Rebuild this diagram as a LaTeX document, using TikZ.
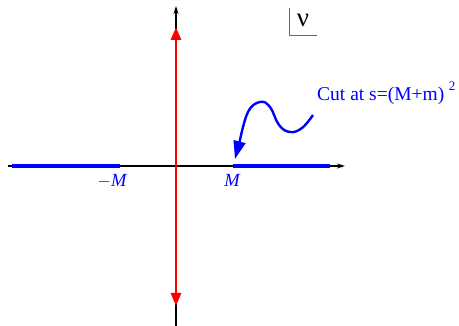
\documentclass[tikz,border=0pt]{standalone}
\usepackage{fontspec}
\setmainfont{Liberation Serif}
\usetikzlibrary{arrows.meta,calc,positioning}
\tikzset{
  axis/.style={black, line width=1.3pt, -{Stealth[length=8pt,width=5pt]}},
  cutline/.style={blue, line width=4pt},
  polearr/.style={red, line width=2.8pt, -{Triangle[length=13pt,width=10pt]}},
  lbl/.style={blue, inner sep=0pt, font=\fontsize{18.5}{18}\selectfont},
  every picture/.style={line cap=butt, line join=round}
}
\begin{document}
\begin{tikzpicture}[x=1pt,y=-1pt]
  \useasboundingbox (0,0) rectangle (459,326);

  % Axes
  \coordinate (o) at (176,166);
  \coordinate (xl) at (8,166);
  \coordinate (xr) at (345,166);
  \coordinate (yt) at (176,6);
  \coordinate (yb) at (176,326);
  \draw[axis] (xl) -- (xr);
  \draw[axis] (yb) -- (yt);

  % Imaginary axis
  \draw[polearr] (o) -- (176,27);
  \draw[polearr] (o) -- (176,306);

  % Cuts
  \coordinate (la) at (12,166);
  \coordinate (lb) at (120,166);
  \coordinate (ra) at (233,166);
  \coordinate (rb) at (330,166);
  \draw[cutline] (la) -- (lb);
  \draw[cutline] (ra) -- (rb);
  \node[lbl,anchor=north] (mm) at (112,174) {$-\mathit{M}$};
  \node[lbl,anchor=north] (mp) at (232,174) {$\mathit{M}$};

  % nu box
  \coordinate (bx) at (289,36);
  \draw[black!60, line width=1pt] (289,8) -- (bx) -- (317,36);
  \node[inner sep=0pt, font=\fontsize{27}{27}\selectfont] (nu) at (303,20) {ν};

  % Label
  \node[blue, inner sep=0pt, anchor=base west, font=\fontsize{19.5}{20}\selectfont] (cut) at (317,101) {Cut at s=(M+m)};
  \node[blue, inner sep=0pt, font=\fontsize{13}{13}\selectfont] (sq) at (452,86) {2};
  \draw[blue, line width=2.4pt, -{Triangle[length=18pt,width=12pt]}]
    plot[smooth, tension=0.7] coordinates {(313,115) (302,128) (290,132) (279,125) (270,107) (260,102) (248,112) (240,140)}
    -- (235,159);
\end{tikzpicture}
\end{document}
